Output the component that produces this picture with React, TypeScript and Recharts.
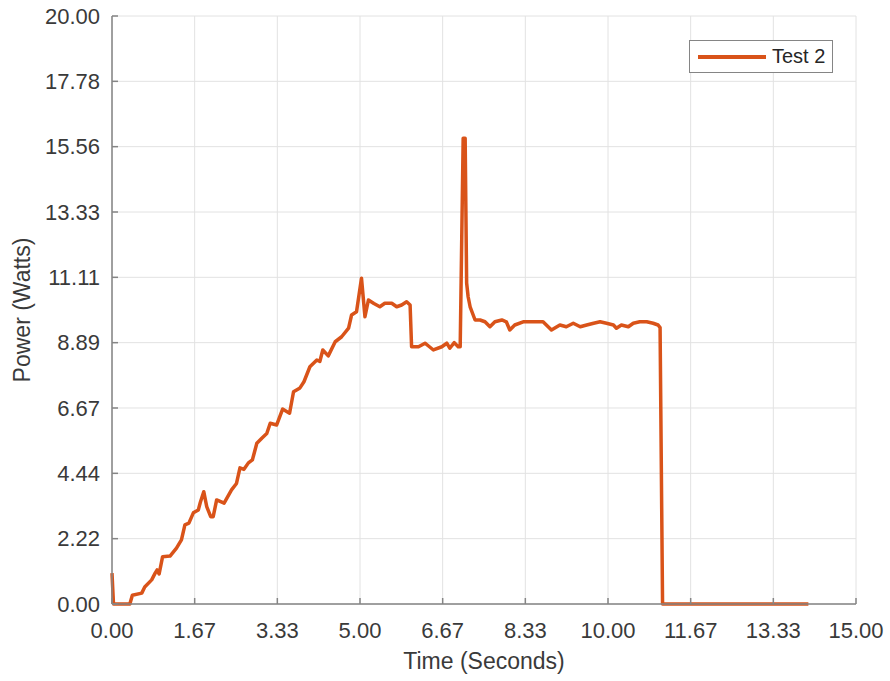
import { LineChart, Line, CartesianGrid, XAxis, YAxis, Legend, Label } from 'recharts';

const times = [
  0.0, 0.03, 0.36, 0.41, 0.6, 0.66, 0.8, 0.87, 0.91, 0.95, 1.02, 1.17, 1.3, 1.4, 1.47, 1.55, 1.64, 1.74, 1.78, 1.85,
  1.91, 1.99, 2.04, 2.11, 2.26, 2.41, 2.51, 2.58, 2.66, 2.75, 2.83, 2.92, 3.02, 3.12, 3.19, 3.32, 3.44, 3.52, 3.58,
  3.66, 3.79, 3.87, 3.99, 4.13, 4.19, 4.25, 4.36, 4.5, 4.63, 4.77, 4.83, 4.93, 5.03, 5.1, 5.17, 5.28, 5.4, 5.5, 5.64,
  5.74, 5.84, 5.94, 6.01, 6.04, 6.18, 6.31, 6.4, 6.48, 6.65, 6.75, 6.81, 6.9, 6.98, 7.02, 7.08, 7.12, 7.15, 7.18,
  7.22, 7.32, 7.42, 7.52, 7.62, 7.72, 7.86, 7.95, 8.02, 8.12, 8.29, 8.45, 8.69, 8.86, 9.03, 9.16, 9.3, 9.44, 9.57,
  9.71, 9.84, 9.97, 10.11, 10.17, 10.27, 10.41, 10.51, 10.64, 10.78, 10.91, 11.01, 11.05, 11.1, 14.04,
];

const watts = [
  1.05, 0.0, 0.0, 0.3, 0.37, 0.58, 0.82, 1.05, 1.16, 1.02, 1.61, 1.63, 1.9, 2.18, 2.69, 2.75, 3.1, 3.2, 3.45, 3.82,
  3.31, 2.97, 2.97, 3.54, 3.43, 3.88, 4.1, 4.63, 4.58, 4.8, 4.9, 5.47, 5.64, 5.8, 6.15, 6.09, 6.63, 6.55, 6.49,
  7.22, 7.35, 7.56, 8.07, 8.3, 8.25, 8.64, 8.44, 8.92, 9.09, 9.38, 9.83, 9.94, 11.08, 9.77, 10.34, 10.22, 10.11, 10.23, 10.23,
  10.11, 10.17, 10.28, 10.17, 8.75, 8.75, 8.87, 8.75, 8.64, 8.75, 8.87, 8.7, 8.89, 8.75, 8.75, 15.84, 15.84, 10.92, 10.45,
  10.11, 9.66, 9.66, 9.6, 9.43, 9.6, 9.66, 9.6, 9.32, 9.49, 9.6, 9.6, 9.6, 9.32, 9.49, 9.43, 9.55, 9.43, 9.49,
  9.55, 9.6, 9.55, 9.49, 9.38, 9.49, 9.43, 9.55, 9.6, 9.6, 9.55, 9.49, 9.4, 0.0, 0.0,
];

const xTicks = [0, 1.6667, 3.3333, 5, 6.6667, 8.3333, 10, 11.6667, 13.3333, 15];
const yTicks = [0, 2.2222, 4.4444, 6.6667, 8.8889, 11.1111, 13.3333, 15.5556, 17.7778, 20];

const data = times.map((t, i) => ({ t, power: watts[i] }));

const FONT = 'Arial, "Liberation Sans", sans-serif';
const AXIS = '#858585';
const TEXT = '#3a3a3a';
const ORANGE = '#D95319';

const fmt = (v: number) => v.toFixed(2);
const blank = () => '';

const LegendBox = () => (
  <div
    style={{
      width: 144,
      height: 33,
      boxSizing: 'border-box',
      border: `1px solid ${AXIS}`,
      background: '#fff',
      display: 'flex',
      alignItems: 'center',
      fontFamily: FONT,
      fontSize: 20,
      color: '#262626',
    }}
  >
    <span style={{ display: 'inline-block', width: 68, height: 4, background: ORANGE, marginLeft: 8, marginRight: 6 }} />
    <span>Test 2</span>
  </div>
);

const App = () => (
  <div style={{ position: 'absolute', left: 0, top: 0 }}>
    <LineChart width={890} height={681} data={data} margin={{ top: 16, right: 34, left: 0, bottom: 0 }}>
      <CartesianGrid stroke="#e2e2e2" strokeWidth={1} />
      <XAxis
        dataKey="t"
        type="number"
        domain={[0, 15]}
        ticks={xTicks}
        tickFormatter={fmt}
        height={77}
        stroke={AXIS}
        strokeWidth={1.5}
        tickSize={-6}
        tickMargin={24}
        tick={{ fill: TEXT, fontSize: 22, fontFamily: FONT }}
      >
        <Label
          content={() => (
            <text x={484} y={669} textAnchor="middle" fill={TEXT} fontSize={23} fontFamily={FONT}>
              Time (Seconds)
            </text>
          )}
        />
      </XAxis>
      <XAxis
        xAxisId="top"
        orientation="top"
        type="number"
        domain={[0, 15]}
        ticks={xTicks}
        tickFormatter={blank}
        height={0}
        stroke={AXIS}
        strokeWidth={1.5}
        tickSize={-6}
      />
      <YAxis
        type="number"
        domain={[0, 20]}
        ticks={yTicks}
        tickFormatter={fmt}
        width={112}
        stroke={AXIS}
        strokeWidth={1.5}
        tickSize={-6}
        tickMargin={18}
        tick={{ fill: TEXT, fontSize: 22, fontFamily: FONT }}
      >
        <Label
          content={() => (
            <text
              x={22}
              y={310}
              transform="rotate(-90, 22, 310)"
              textAnchor="middle"
              dominantBaseline="central"
              fill={TEXT}
              fontSize={23}
              fontFamily={FONT}
            >
              Power (Watts)
            </text>
          )}
        />
      </YAxis>
      <YAxis
        yAxisId="right"
        orientation="right"
        type="number"
        domain={[0, 20]}
        ticks={yTicks}
        tickFormatter={blank}
        width={0}
        stroke={AXIS}
        strokeWidth={1.5}
        tickSize={-6}
      />
      <Legend
        layout="horizontal"
        verticalAlign="middle"
        align="center"
        content={() => <LegendBox />}
        wrapperStyle={{ position: 'absolute', top: 40, left: 689, width: 144 }}
      />
      <Line
        type="linear"
        dataKey="power"
        name="Test 2"
        stroke={ORANGE}
        strokeWidth={3.5}
        strokeLinejoin="round"
        dot={false}
        isAnimationActive={false}
      />
    </LineChart>
  </div>
);

export default App;
